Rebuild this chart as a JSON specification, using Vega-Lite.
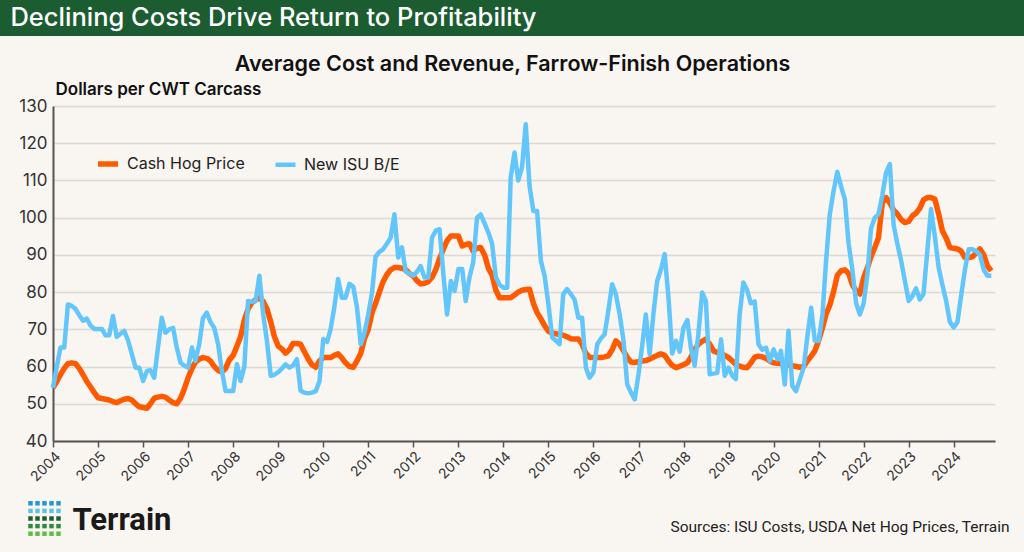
{
  "$schema": "https://vega.github.io/schema/vega-lite/v6.json",
  "background": "#f9f5f1",
  "padding": 0,
  "config": {"view": {"stroke": null}, "font": "Inter"},
  "resolve": {"scale": {"color": "independent", "strokeWidth": "independent"}, "legend": {"color": "independent"}},
  "spacing": 17,
  "vconcat": [
    {
      "spacing": 0,
      "hconcat": [
        {
          "width": 547, "height": 36,
          "view": {"fill": "#1b5d31", "stroke": null},
          "data": {"values": [{"label": "Declining Costs Drive Return to Profitability"}]},
          "mark": {"type": "text", "color": "#ffffff", "font": "Inter", "fontSize": 25.5, "fontWeight": 500, "align": "center", "baseline": "middle"},
          "encoding": {"text": {"field": "label", "type": "nominal"}}
        },
        {
          "width": 477, "height": 36,
          "view": {"fill": "#1b5d31", "stroke": null},
          "data": {"values": [{"label": ""}]},
          "mark": {"type": "text"},
          "encoding": {"text": {"field": "label", "type": "nominal"}}
        }
      ]
    },
    {
      "width": 995,
      "height": 335,
      "title": {"text": "Average Cost and Revenue, Farrow-Finish Operations", "anchor": "middle", "frame": "group", "dx": 15, "fontSize": 21.5, "fontWeight": 600, "font": "Inter", "color": "#111111", "offset": -12, "baseline": "alphabetic"},
      "data": {"values": [
        {"date":"2004-01","Cash Hog Price":54.3,"New ISU B/E":54.3},
        {"date":"2004-02","Cash Hog Price":56,"New ISU B/E":60},
        {"date":"2004-03","Cash Hog Price":57.8,"New ISU B/E":65.1},
        {"date":"2004-04","Cash Hog Price":59.5,"New ISU B/E":65.1},
        {"date":"2004-05","Cash Hog Price":60.8,"New ISU B/E":76.7},
        {"date":"2004-06","Cash Hog Price":61,"New ISU B/E":76.3},
        {"date":"2004-07","Cash Hog Price":60.8,"New ISU B/E":75.5},
        {"date":"2004-08","Cash Hog Price":59.5,"New ISU B/E":73.8},
        {"date":"2004-09","Cash Hog Price":57.8,"New ISU B/E":72.3},
        {"date":"2004-10","Cash Hog Price":56,"New ISU B/E":72.9},
        {"date":"2004-11","Cash Hog Price":54.5,"New ISU B/E":71},
        {"date":"2004-12","Cash Hog Price":53,"New ISU B/E":70.1},
        {"date":"2005-01","Cash Hog Price":51.6,"New ISU B/E":70.1},
        {"date":"2005-02","Cash Hog Price":51.4,"New ISU B/E":70.1},
        {"date":"2005-03","Cash Hog Price":51.2,"New ISU B/E":68.4},
        {"date":"2005-04","Cash Hog Price":51,"New ISU B/E":68.4},
        {"date":"2005-05","Cash Hog Price":50.6,"New ISU B/E":73.6},
        {"date":"2005-06","Cash Hog Price":50.3,"New ISU B/E":68},
        {"date":"2005-07","Cash Hog Price":50.8,"New ISU B/E":68.8},
        {"date":"2005-08","Cash Hog Price":51.2,"New ISU B/E":69.6},
        {"date":"2005-09","Cash Hog Price":51.4,"New ISU B/E":67},
        {"date":"2005-10","Cash Hog Price":51,"New ISU B/E":63.4},
        {"date":"2005-11","Cash Hog Price":50,"New ISU B/E":59.7},
        {"date":"2005-12","Cash Hog Price":49.2,"New ISU B/E":59.7},
        {"date":"2006-01","Cash Hog Price":49,"New ISU B/E":56.1},
        {"date":"2006-02","Cash Hog Price":48.8,"New ISU B/E":58.8},
        {"date":"2006-03","Cash Hog Price":50,"New ISU B/E":59},
        {"date":"2006-04","Cash Hog Price":51.5,"New ISU B/E":57},
        {"date":"2006-05","Cash Hog Price":51.8,"New ISU B/E":65},
        {"date":"2006-06","Cash Hog Price":52,"New ISU B/E":73.1},
        {"date":"2006-07","Cash Hog Price":51.8,"New ISU B/E":69.1},
        {"date":"2006-08","Cash Hog Price":51,"New ISU B/E":70},
        {"date":"2006-09","Cash Hog Price":50.3,"New ISU B/E":70.4},
        {"date":"2006-10","Cash Hog Price":50,"New ISU B/E":65.1},
        {"date":"2006-11","Cash Hog Price":51.5,"New ISU B/E":61},
        {"date":"2006-12","Cash Hog Price":54,"New ISU B/E":60.2},
        {"date":"2007-01","Cash Hog Price":57,"New ISU B/E":59.7},
        {"date":"2007-02","Cash Hog Price":59.5,"New ISU B/E":65.1},
        {"date":"2007-03","Cash Hog Price":61.2,"New ISU B/E":61.5},
        {"date":"2007-04","Cash Hog Price":62,"New ISU B/E":66},
        {"date":"2007-05","Cash Hog Price":62.4,"New ISU B/E":73},
        {"date":"2007-06","Cash Hog Price":62.2,"New ISU B/E":74.5},
        {"date":"2007-07","Cash Hog Price":61.5,"New ISU B/E":72},
        {"date":"2007-08","Cash Hog Price":60,"New ISU B/E":70.4},
        {"date":"2007-09","Cash Hog Price":59,"New ISU B/E":66},
        {"date":"2007-10","Cash Hog Price":58.5,"New ISU B/E":59},
        {"date":"2007-11","Cash Hog Price":59.5,"New ISU B/E":53.4},
        {"date":"2007-12","Cash Hog Price":61.8,"New ISU B/E":53.4},
        {"date":"2008-01","Cash Hog Price":63,"New ISU B/E":53.4},
        {"date":"2008-02","Cash Hog Price":65.5,"New ISU B/E":60.6},
        {"date":"2008-03","Cash Hog Price":68,"New ISU B/E":56.1},
        {"date":"2008-04","Cash Hog Price":72.5,"New ISU B/E":60},
        {"date":"2008-05","Cash Hog Price":75.5,"New ISU B/E":77.6},
        {"date":"2008-06","Cash Hog Price":77.2,"New ISU B/E":77.4},
        {"date":"2008-07","Cash Hog Price":78,"New ISU B/E":77.6},
        {"date":"2008-08","Cash Hog Price":78.5,"New ISU B/E":84.4},
        {"date":"2008-09","Cash Hog Price":77.5,"New ISU B/E":74},
        {"date":"2008-10","Cash Hog Price":75.5,"New ISU B/E":66.9},
        {"date":"2008-11","Cash Hog Price":72,"New ISU B/E":57.5},
        {"date":"2008-12","Cash Hog Price":68,"New ISU B/E":57.8},
        {"date":"2009-01","Cash Hog Price":65.5,"New ISU B/E":58.5},
        {"date":"2009-02","Cash Hog Price":64.7,"New ISU B/E":59.5},
        {"date":"2009-03","Cash Hog Price":63.6,"New ISU B/E":60.6},
        {"date":"2009-04","Cash Hog Price":64.5,"New ISU B/E":59.7},
        {"date":"2009-05","Cash Hog Price":66.2,"New ISU B/E":60.3},
        {"date":"2009-06","Cash Hog Price":66.2,"New ISU B/E":62},
        {"date":"2009-07","Cash Hog Price":66,"New ISU B/E":53.5},
        {"date":"2009-08","Cash Hog Price":64,"New ISU B/E":53},
        {"date":"2009-09","Cash Hog Price":62,"New ISU B/E":52.8},
        {"date":"2009-10","Cash Hog Price":60.5,"New ISU B/E":53},
        {"date":"2009-11","Cash Hog Price":59.8,"New ISU B/E":53.4},
        {"date":"2009-12","Cash Hog Price":61.5,"New ISU B/E":56},
        {"date":"2010-01","Cash Hog Price":62.4,"New ISU B/E":67.4},
        {"date":"2010-02","Cash Hog Price":62.4,"New ISU B/E":66.6},
        {"date":"2010-03","Cash Hog Price":62.4,"New ISU B/E":70},
        {"date":"2010-04","Cash Hog Price":63,"New ISU B/E":76},
        {"date":"2010-05","Cash Hog Price":63.4,"New ISU B/E":83.5},
        {"date":"2010-06","Cash Hog Price":62.3,"New ISU B/E":78.5},
        {"date":"2010-07","Cash Hog Price":61,"New ISU B/E":78.5},
        {"date":"2010-08","Cash Hog Price":60,"New ISU B/E":82.2},
        {"date":"2010-09","Cash Hog Price":59.8,"New ISU B/E":81.5},
        {"date":"2010-10","Cash Hog Price":61.5,"New ISU B/E":76},
        {"date":"2010-11","Cash Hog Price":63.5,"New ISU B/E":66},
        {"date":"2010-12","Cash Hog Price":67.5,"New ISU B/E":69},
        {"date":"2011-01","Cash Hog Price":70,"New ISU B/E":74},
        {"date":"2011-02","Cash Hog Price":74.5,"New ISU B/E":80},
        {"date":"2011-03","Cash Hog Price":77,"New ISU B/E":89.5},
        {"date":"2011-04","Cash Hog Price":80,"New ISU B/E":90.8},
        {"date":"2011-05","Cash Hog Price":82.8,"New ISU B/E":91.5},
        {"date":"2011-06","Cash Hog Price":84.7,"New ISU B/E":93},
        {"date":"2011-07","Cash Hog Price":86,"New ISU B/E":94.6},
        {"date":"2011-08","Cash Hog Price":86.6,"New ISU B/E":100.9},
        {"date":"2011-09","Cash Hog Price":86.6,"New ISU B/E":89.3},
        {"date":"2011-10","Cash Hog Price":86.4,"New ISU B/E":92},
        {"date":"2011-11","Cash Hog Price":86,"New ISU B/E":85.5},
        {"date":"2011-12","Cash Hog Price":85,"New ISU B/E":85},
        {"date":"2012-01","Cash Hog Price":84.3,"New ISU B/E":84.4},
        {"date":"2012-02","Cash Hog Price":83,"New ISU B/E":85.5},
        {"date":"2012-03","Cash Hog Price":82.2,"New ISU B/E":87},
        {"date":"2012-04","Cash Hog Price":82.4,"New ISU B/E":83.9},
        {"date":"2012-05","Cash Hog Price":82.8,"New ISU B/E":83.9},
        {"date":"2012-06","Cash Hog Price":84,"New ISU B/E":94.6},
        {"date":"2012-07","Cash Hog Price":86,"New ISU B/E":96.5},
        {"date":"2012-08","Cash Hog Price":89,"New ISU B/E":96.9},
        {"date":"2012-09","Cash Hog Price":91.5,"New ISU B/E":84.8},
        {"date":"2012-10","Cash Hog Price":93.8,"New ISU B/E":74},
        {"date":"2012-11","Cash Hog Price":95.1,"New ISU B/E":83},
        {"date":"2012-12","Cash Hog Price":95.1,"New ISU B/E":80.3},
        {"date":"2013-01","Cash Hog Price":95.1,"New ISU B/E":86.2},
        {"date":"2013-02","Cash Hog Price":92.4,"New ISU B/E":86.2},
        {"date":"2013-03","Cash Hog Price":92.8,"New ISU B/E":77.6},
        {"date":"2013-04","Cash Hog Price":93,"New ISU B/E":84},
        {"date":"2013-05","Cash Hog Price":91,"New ISU B/E":88},
        {"date":"2013-06","Cash Hog Price":91.8,"New ISU B/E":100},
        {"date":"2013-07","Cash Hog Price":92,"New ISU B/E":100.9},
        {"date":"2013-08","Cash Hog Price":90,"New ISU B/E":98.5},
        {"date":"2013-09","Cash Hog Price":86.5,"New ISU B/E":96},
        {"date":"2013-10","Cash Hog Price":84.5,"New ISU B/E":93},
        {"date":"2013-11","Cash Hog Price":80.5,"New ISU B/E":84},
        {"date":"2013-12","Cash Hog Price":78.5,"New ISU B/E":82},
        {"date":"2014-01","Cash Hog Price":78.5,"New ISU B/E":81.2},
        {"date":"2014-02","Cash Hog Price":78.5,"New ISU B/E":81.2},
        {"date":"2014-03","Cash Hog Price":78.5,"New ISU B/E":110.8},
        {"date":"2014-04","Cash Hog Price":79.2,"New ISU B/E":117.5},
        {"date":"2014-05","Cash Hog Price":80,"New ISU B/E":110},
        {"date":"2014-06","Cash Hog Price":80.5,"New ISU B/E":113.5},
        {"date":"2014-07","Cash Hog Price":80.7,"New ISU B/E":125.1},
        {"date":"2014-08","Cash Hog Price":80.8,"New ISU B/E":108.5},
        {"date":"2014-09","Cash Hog Price":77,"New ISU B/E":101.8},
        {"date":"2014-10","Cash Hog Price":74.5,"New ISU B/E":101.8},
        {"date":"2014-11","Cash Hog Price":72.8,"New ISU B/E":88.4},
        {"date":"2014-12","Cash Hog Price":71,"New ISU B/E":84.4},
        {"date":"2015-01","Cash Hog Price":69.5,"New ISU B/E":76.7},
        {"date":"2015-02","Cash Hog Price":69,"New ISU B/E":67.8},
        {"date":"2015-03","Cash Hog Price":68.8,"New ISU B/E":67},
        {"date":"2015-04","Cash Hog Price":68.6,"New ISU B/E":66},
        {"date":"2015-05","Cash Hog Price":68.4,"New ISU B/E":79.4},
        {"date":"2015-06","Cash Hog Price":68,"New ISU B/E":80.8},
        {"date":"2015-07","Cash Hog Price":67.5,"New ISU B/E":79.5},
        {"date":"2015-08","Cash Hog Price":67.4,"New ISU B/E":78},
        {"date":"2015-09","Cash Hog Price":67.4,"New ISU B/E":73.1},
        {"date":"2015-10","Cash Hog Price":66,"New ISU B/E":73.1},
        {"date":"2015-11","Cash Hog Price":63.5,"New ISU B/E":59.7},
        {"date":"2015-12","Cash Hog Price":62.5,"New ISU B/E":57},
        {"date":"2016-01","Cash Hog Price":62.4,"New ISU B/E":58.5},
        {"date":"2016-02","Cash Hog Price":62.4,"New ISU B/E":66},
        {"date":"2016-03","Cash Hog Price":62.4,"New ISU B/E":67.5},
        {"date":"2016-04","Cash Hog Price":62.6,"New ISU B/E":68.7},
        {"date":"2016-05","Cash Hog Price":62.9,"New ISU B/E":75},
        {"date":"2016-06","Cash Hog Price":64.5,"New ISU B/E":82.1},
        {"date":"2016-07","Cash Hog Price":66.9,"New ISU B/E":79.4},
        {"date":"2016-08","Cash Hog Price":66,"New ISU B/E":74},
        {"date":"2016-09","Cash Hog Price":64.3,"New ISU B/E":67},
        {"date":"2016-10","Cash Hog Price":62.5,"New ISU B/E":55.2},
        {"date":"2016-11","Cash Hog Price":61.2,"New ISU B/E":53},
        {"date":"2016-12","Cash Hog Price":61.1,"New ISU B/E":51.2},
        {"date":"2017-01","Cash Hog Price":61.3,"New ISU B/E":58},
        {"date":"2017-02","Cash Hog Price":61.5,"New ISU B/E":66},
        {"date":"2017-03","Cash Hog Price":61.6,"New ISU B/E":74},
        {"date":"2017-04","Cash Hog Price":62,"New ISU B/E":63.3},
        {"date":"2017-05","Cash Hog Price":62.5,"New ISU B/E":74},
        {"date":"2017-06","Cash Hog Price":63,"New ISU B/E":83},
        {"date":"2017-07","Cash Hog Price":63.4,"New ISU B/E":86},
        {"date":"2017-08","Cash Hog Price":63,"New ISU B/E":90.2},
        {"date":"2017-09","Cash Hog Price":61.5,"New ISU B/E":78.4},
        {"date":"2017-10","Cash Hog Price":60.3,"New ISU B/E":63.5},
        {"date":"2017-11","Cash Hog Price":59.7,"New ISU B/E":66.9},
        {"date":"2017-12","Cash Hog Price":60.1,"New ISU B/E":64},
        {"date":"2018-01","Cash Hog Price":60.5,"New ISU B/E":70.5},
        {"date":"2018-02","Cash Hog Price":61,"New ISU B/E":72.5},
        {"date":"2018-03","Cash Hog Price":62.5,"New ISU B/E":65.1},
        {"date":"2018-04","Cash Hog Price":64.5,"New ISU B/E":60.2},
        {"date":"2018-05","Cash Hog Price":66,"New ISU B/E":68.7},
        {"date":"2018-06","Cash Hog Price":66.8,"New ISU B/E":79.9},
        {"date":"2018-07","Cash Hog Price":67.4,"New ISU B/E":77.6},
        {"date":"2018-08","Cash Hog Price":66,"New ISU B/E":57.9},
        {"date":"2018-09","Cash Hog Price":64.2,"New ISU B/E":58.1},
        {"date":"2018-10","Cash Hog Price":63.8,"New ISU B/E":58.3},
        {"date":"2018-11","Cash Hog Price":63.5,"New ISU B/E":67.3},
        {"date":"2018-12","Cash Hog Price":63,"New ISU B/E":57.5},
        {"date":"2019-01","Cash Hog Price":62.4,"New ISU B/E":59.7},
        {"date":"2019-02","Cash Hog Price":61.5,"New ISU B/E":57.5},
        {"date":"2019-03","Cash Hog Price":60.6,"New ISU B/E":56.6},
        {"date":"2019-04","Cash Hog Price":60.1,"New ISU B/E":74},
        {"date":"2019-05","Cash Hog Price":59.8,"New ISU B/E":82.6},
        {"date":"2019-06","Cash Hog Price":59.7,"New ISU B/E":80.5},
        {"date":"2019-07","Cash Hog Price":61,"New ISU B/E":77},
        {"date":"2019-08","Cash Hog Price":62.5,"New ISU B/E":77.5},
        {"date":"2019-09","Cash Hog Price":62.8,"New ISU B/E":66},
        {"date":"2019-10","Cash Hog Price":62.6,"New ISU B/E":64.5},
        {"date":"2019-11","Cash Hog Price":62.2,"New ISU B/E":65.1},
        {"date":"2019-12","Cash Hog Price":61.5,"New ISU B/E":61.5},
        {"date":"2020-01","Cash Hog Price":61,"New ISU B/E":64.6},
        {"date":"2020-02","Cash Hog Price":60.9,"New ISU B/E":62},
        {"date":"2020-03","Cash Hog Price":60.8,"New ISU B/E":64.2},
        {"date":"2020-04","Cash Hog Price":60.6,"New ISU B/E":55.2},
        {"date":"2020-05","Cash Hog Price":60.4,"New ISU B/E":69.6},
        {"date":"2020-06","Cash Hog Price":60.2,"New ISU B/E":54.8},
        {"date":"2020-07","Cash Hog Price":60,"New ISU B/E":53.4},
        {"date":"2020-08","Cash Hog Price":59.8,"New ISU B/E":56.5},
        {"date":"2020-09","Cash Hog Price":60,"New ISU B/E":59.7},
        {"date":"2020-10","Cash Hog Price":61.5,"New ISU B/E":68},
        {"date":"2020-11","Cash Hog Price":62.8,"New ISU B/E":75.8},
        {"date":"2020-12","Cash Hog Price":64.2,"New ISU B/E":66.9},
        {"date":"2021-01","Cash Hog Price":67,"New ISU B/E":66.9},
        {"date":"2021-02","Cash Hog Price":70.5,"New ISU B/E":74},
        {"date":"2021-03","Cash Hog Price":74,"New ISU B/E":88},
        {"date":"2021-04","Cash Hog Price":76.5,"New ISU B/E":100.9},
        {"date":"2021-05","Cash Hog Price":80,"New ISU B/E":107},
        {"date":"2021-06","Cash Hog Price":84.5,"New ISU B/E":112.3},
        {"date":"2021-07","Cash Hog Price":85.7,"New ISU B/E":108.5},
        {"date":"2021-08","Cash Hog Price":86,"New ISU B/E":105},
        {"date":"2021-09","Cash Hog Price":85,"New ISU B/E":93},
        {"date":"2021-10","Cash Hog Price":82,"New ISU B/E":86},
        {"date":"2021-11","Cash Hog Price":80.3,"New ISU B/E":77},
        {"date":"2021-12","Cash Hog Price":79.5,"New ISU B/E":74},
        {"date":"2022-01","Cash Hog Price":83.9,"New ISU B/E":77},
        {"date":"2022-02","Cash Hog Price":86.6,"New ISU B/E":85},
        {"date":"2022-03","Cash Hog Price":89.5,"New ISU B/E":97},
        {"date":"2022-04","Cash Hog Price":92,"New ISU B/E":100},
        {"date":"2022-05","Cash Hog Price":94.6,"New ISU B/E":100.9},
        {"date":"2022-06","Cash Hog Price":104,"New ISU B/E":106},
        {"date":"2022-07","Cash Hog Price":105.4,"New ISU B/E":112},
        {"date":"2022-08","Cash Hog Price":104,"New ISU B/E":114.4},
        {"date":"2022-09","Cash Hog Price":102,"New ISU B/E":98},
        {"date":"2022-10","Cash Hog Price":101,"New ISU B/E":93},
        {"date":"2022-11","Cash Hog Price":99.5,"New ISU B/E":88.4},
        {"date":"2022-12","Cash Hog Price":98.7,"New ISU B/E":83},
        {"date":"2023-01","Cash Hog Price":99,"New ISU B/E":77.6},
        {"date":"2023-02","Cash Hog Price":100.5,"New ISU B/E":79},
        {"date":"2023-03","Cash Hog Price":101.2,"New ISU B/E":81},
        {"date":"2023-04","Cash Hog Price":102.5,"New ISU B/E":78},
        {"date":"2023-05","Cash Hog Price":104.8,"New ISU B/E":79.5},
        {"date":"2023-06","Cash Hog Price":105.4,"New ISU B/E":91},
        {"date":"2023-07","Cash Hog Price":105.4,"New ISU B/E":102.3},
        {"date":"2023-08","Cash Hog Price":105,"New ISU B/E":95},
        {"date":"2023-09","Cash Hog Price":101,"New ISU B/E":86.6},
        {"date":"2023-10","Cash Hog Price":96.5,"New ISU B/E":82},
        {"date":"2023-11","Cash Hog Price":94.5,"New ISU B/E":77.6},
        {"date":"2023-12","Cash Hog Price":92,"New ISU B/E":72},
        {"date":"2024-01","Cash Hog Price":91.8,"New ISU B/E":70.5},
        {"date":"2024-02","Cash Hog Price":91.6,"New ISU B/E":72},
        {"date":"2024-03","Cash Hog Price":91,"New ISU B/E":79},
        {"date":"2024-04","Cash Hog Price":89.3,"New ISU B/E":86},
        {"date":"2024-05","Cash Hog Price":89.3,"New ISU B/E":91.5},
        {"date":"2024-06","Cash Hog Price":89.5,"New ISU B/E":91.5},
        {"date":"2024-07","Cash Hog Price":90.5,"New ISU B/E":91},
        {"date":"2024-08","Cash Hog Price":91.6,"New ISU B/E":90},
        {"date":"2024-09","Cash Hog Price":90,"New ISU B/E":86},
        {"date":"2024-10","Cash Hog Price":87,"New ISU B/E":84.4},
        {"date":"2024-11","Cash Hog Price":85.7,"New ISU B/E":84.4}
      ]},
      "transform": [{"fold": ["Cash Hog Price", "New ISU B/E"], "as": ["series", "value"]}],
      "mark": {"type": "line", "strokeJoin": "round"},
      "encoding": {
        "x": {
          "field": "date", "type": "temporal",
          "scale": {"domain": ["2004-01-01", "2024-12-01"], "range": [53, 995]},
          "axis": {"title": null, "format": "%Y", "tickCount": {"interval": "year", "step": 1}, "labelAngle": -45, "labelAlign": "right", "labelBaseline": "top", "labelFontSize": 14, "labelColor": "#333333", "labelPadding": 2, "labelOverlap": false, "labelFlush": false, "tickSize": 6, "tickColor": "#555555", "tickWidth": 1.5, "domainColor": "#555555", "domainWidth": 2, "grid": false}
        },
        "y": {
          "field": "value", "type": "quantitative",
          "scale": {"domain": [40, 130], "nice": false, "zero": false},
          "axis": {"offset": -53, "values": [40, 50, 60, 70, 80, 90, 100, 110, 120, 130], "title": "Dollars per CWT Carcass", "titleAngle": 0, "titleAlign": "left", "titleBaseline": "alphabetic", "titleX": 2, "titleY": -12, "titleFontSize": 17, "titleFontWeight": 600, "titleFont": "Inter", "titleColor": "#111111", "labelFontSize": 17, "labelColor": "#333333", "labelPadding": 6, "ticks": false, "domainColor": "#555555", "domainWidth": 2, "grid": true, "gridColor": "#dcd8d4", "gridWidth": 1.5}
        },
        "color": {
          "field": "series", "type": "nominal",
          "scale": {"domain": ["Cash Hog Price", "New ISU B/E"], "range": ["#ff5a00", "#63c6fb"]},
          "legend": {"title": null, "orient": "none", "legendX": 95, "legendY": 45, "direction": "horizontal", "symbolType": "stroke", "symbolSize": 400, "symbolStrokeWidth": 6, "labelFontSize": 16, "labelFont": "Inter", "labelColor": "#222222", "labelOffset": 6, "columnPadding": 21, "padding": 0}
        },
        "strokeWidth": {
          "field": "series", "type": "nominal",
          "scale": {"domain": ["Cash Hog Price", "New ISU B/E"], "range": [5.5, 4.5]},
          "legend": null
        }
      }
    },
    {
      "spacing": 0,
      "hconcat": [
        {
          "width": 27, "height": 36,
          "data": {"values": [{"label": ""}]},
          "mark": {"type": "text"},
          "encoding": {"text": {"field": "label", "type": "nominal"}}
        },
        {
          "width": 35, "height": 35,
          "data": {"values": [
            {"row": 1, "col": 1}, {"row": 1, "col": 2}, {"row": 1, "col": 3}, {"row": 1, "col": 4}, {"row": 1, "col": 5},
            {"row": 2, "col": 1}, {"row": 2, "col": 2}, {"row": 2, "col": 3}, {"row": 2, "col": 4}, {"row": 2, "col": 5},
            {"row": 3, "col": 1}, {"row": 3, "col": 2}, {"row": 3, "col": 3}, {"row": 3, "col": 4}, {"row": 3, "col": 5},
            {"row": 4, "col": 1}, {"row": 4, "col": 2}, {"row": 4, "col": 3}, {"row": 4, "col": 4}, {"row": 4, "col": 5},
            {"row": 5, "col": 1}, {"row": 5, "col": 2}, {"row": 5, "col": 3}, {"row": 5, "col": 4}, {"row": 5, "col": 5}
          ]},
          "mark": {"type": "square", "size": 20, "opacity": 1},
          "encoding": {
            "x": {"field": "col", "type": "ordinal", "axis": null, "scale": {"type": "point", "padding": 0.5}},
            "y": {"field": "row", "type": "ordinal", "axis": null, "scale": {"type": "point", "padding": 0.3}},
            "color": {"field": "row", "type": "ordinal", "scale": {"domain": [1, 2, 3, 4, 5], "range": ["#2196d6", "#5cc0ec", "#1c5c30", "#2e8a3e", "#5dbb46"]}, "legend": null}
          }
        },
        {
          "width": 120, "height": 36,
          "data": {"values": [{"label": "Terrain"}]},
          "mark": {"type": "text", "font": "Roboto", "fontSize": 31, "fontWeight": 700, "color": "#1a1a1a", "align": "center", "baseline": "middle", "dy": 2},
          "encoding": {"text": {"field": "label", "type": "nominal"}}
        },
        {
          "width": 478, "height": 51,
          "data": {"values": [{"label": ""}]},
          "mark": {"type": "text"},
          "encoding": {"text": {"field": "label", "type": "nominal"}}
        },
        {
          "width": 360, "height": 36,
          "data": {"values": [{"label": "Sources: ISU Costs, USDA Net Hog Prices, Terrain"}]},
          "mark": {"type": "text", "font": "Roboto", "fontSize": 15.5, "color": "#222222", "align": "center", "baseline": "middle", "dy": 8},
          "encoding": {"text": {"field": "label", "type": "nominal"}}
        }
      ]
    }
  ]
}
